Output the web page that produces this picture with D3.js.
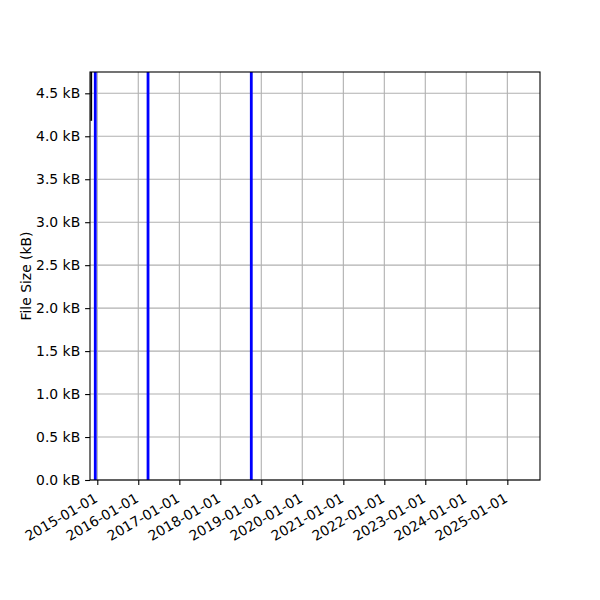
<!DOCTYPE html>
<html><head><meta charset="utf-8">
<script src="https://cdn.jsdelivr.net/npm/d3@7"></script>
<style>body{margin:0;background:#fff}svg{display:block}text{font-family:"DejaVu Sans",sans-serif;fill:#000}</style>
</head><body><svg id="c" width="600" height="600"></svg>
<script>
const xDomain = ["2014-10-28", "2025-10-19"];
const yDomain = [0, 4.748];
const xTicks = ["2015-01-01","2016-01-01","2017-01-01","2018-01-01","2019-01-01","2020-01-01","2021-01-01","2022-01-01","2023-01-01","2024-01-01","2025-01-01"];
const yTicks = [0,0.5,1.0,1.5,2.0,2.5,3.0,3.5,4.0,4.5];
const sizeDates = ["2014-11-08","2014-11-08"];
const sizeValues = [4.18, 6.0];
const eventDates = ["2014-12-14","2016-03-28","2018-10-04"];
const yLabel = "File Size (kB)";

const parse = d3.utcParse("%Y-%m-%d");
const svg = d3.select("#c");
const L=90,R=540,T=72,B=480;
const x = d3.scaleUtc().domain(xDomain.map(parse)).range([L,R]);
const y = d3.scaleLinear().domain(yDomain).range([B,T]);

svg.append("defs").append("clipPath").attr("id","clip").append("rect")
  .attr("x",L).attr("y",T).attr("width",R-L).attr("height",B-T);

const g = svg.append("g");
// grid
g.selectAll(".gx").data(xTicks).join("line")
  .attr("x1",d=>x(parse(d))).attr("x2",d=>x(parse(d))).attr("y1",T).attr("y2",B)
  .attr("stroke","#b0b0b0").attr("stroke-width",1.1);
g.selectAll(".gy").data(yTicks).join("line")
  .attr("y1",d=>y(d)).attr("y2",d=>y(d)).attr("x1",L).attr("x2",R)
  .attr("stroke","#b0b0b0").attr("stroke-width",1.1);

const plot = svg.append("g").attr("clip-path","url(#clip)");
// size line
const pts = sizeDates.map((d,i)=>[parse(d), sizeValues[i]]);
plot.append("path").datum(pts)
  .attr("d", d3.line().x(d=>x(d[0])).y(d=>y(d[1])))
  .attr("fill","none").attr("stroke","#000").attr("stroke-width",1.8);
// event lines
plot.selectAll(".ev").data(eventDates).join("line")
  .attr("x1",d=>x(parse(d))).attr("x2",d=>x(parse(d))).attr("y1",T).attr("y2",B)
  .attr("stroke","#0000ff").attr("stroke-width",2.8);

// frame
svg.append("rect").attr("x",L).attr("y",T).attr("width",R-L).attr("height",B-T)
  .attr("fill","none").attr("stroke","#000").attr("stroke-width",1.1);

// x axis
const xa = svg.append("g").attr("transform",`translate(0,${B})`)
  .call(d3.axisBottom(x).tickValues(xTicks.map(parse)).tickSize(4.9).tickPadding(0).tickFormat(d3.utcFormat("%Y-%m-%d")));
xa.select(".domain").remove();
xa.selectAll(".tick line").attr("stroke","#000").attr("stroke-width",1.1);
xa.selectAll(".tick text").attr("font-size","13.9px").attr("font-family","DejaVu Sans")
  .attr("text-anchor","end").attr("dy",null).attr("y",null)
  .attr("transform","translate(0.8,21) rotate(-30)");

// y axis
const ya = svg.append("g").attr("transform",`translate(${L},0)`)
  .call(d3.axisLeft(y).tickValues(yTicks).tickSize(4.9).tickPadding(4.9).tickFormat(d=>d3.format(".1f")(d)+" kB"));
ya.select(".domain").remove();
ya.selectAll(".tick line").attr("stroke","#000").attr("stroke-width",1.1);
ya.selectAll(".tick text").attr("font-size","13.9px").attr("font-family","DejaVu Sans");

svg.append("text").attr("transform",`translate(31,${(T+B)/2}) rotate(-90)`)
  .attr("text-anchor","middle").attr("font-size","13.9px").text(yLabel);
</script></body></html>
